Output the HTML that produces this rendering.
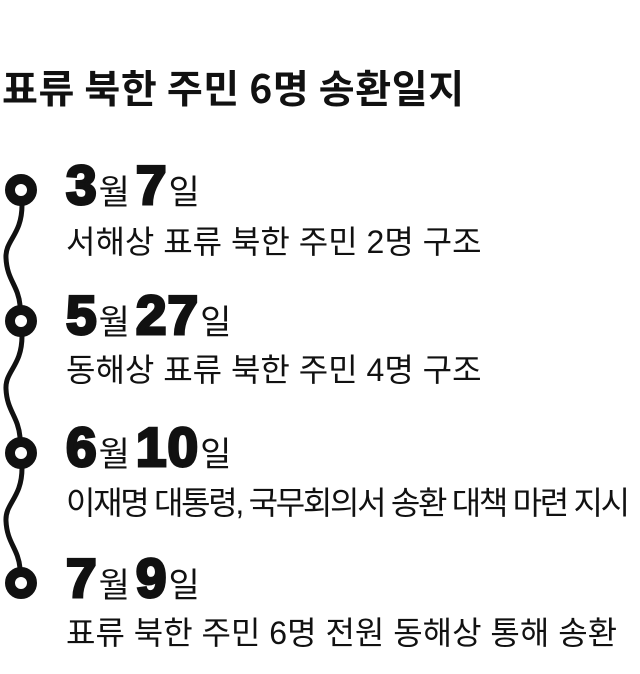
<!DOCTYPE html>
<html><head><meta charset="utf-8"><style>
body{margin:0;width:640px;height:674px;background:#fff;position:relative;overflow:hidden;font-family:"Liberation Sans","Noto Sans CJK KR",sans-serif;color:#111}
.t{position:absolute;left:2px;top:62px;font-family:"Noto Sans CJK KR",sans-serif;font-weight:700;font-size:39px;letter-spacing:0.6px;line-height:50px;white-space:nowrap}
.d{position:absolute;left:66px;white-space:nowrap;line-height:60px;height:60px}
.n{font-family:"Liberation Sans",sans-serif;font-weight:900;font-size:55px;-webkit-text-stroke:3px #111;letter-spacing:1px}
.k{font-family:"Noto Sans CJK KR",sans-serif;font-size:34px;font-weight:400;margin:0 6px 0 1px}
.s{position:absolute;left:66px;font-family:"Liberation Sans","Noto Sans CJK KR",sans-serif;font-size:32px;line-height:40px;white-space:nowrap}
</style></head><body>
<div class="t">표류 북한 주민 6명 송환일지</div>
<svg width="60" height="674" style="position:absolute;left:0;top:0">
<g fill="none" stroke="#111" stroke-width="5" stroke-linecap="round">
<path d="M22,205 C22,235 5,240 6,258 C7,280 18,285 20,305"/>
<path d="M22,336 C22,366 5,371 6,389 C7,411 18,416 20,437"/>
<path d="M22,468 C22,498 5,503 6,521 C7,543 18,548 20,568"/>
</g>
<g fill="#fff" stroke="#111" stroke-width="10">
<circle cx="21" cy="190" r="11"/><circle cx="21" cy="321" r="11"/><circle cx="21" cy="453" r="11"/><circle cx="21" cy="583" r="11"/>
</g></svg>
<div class="d" style="top:155px"><span class="n">3</span><span class="k">월</span><span class="n">7</span><span class="k">일</span></div>
<div class="s" style="top:222px;letter-spacing:0px">서해상 표류 북한 주민 2명 구조</div>
<div class="d" style="top:285px"><span class="n">5</span><span class="k">월</span><span class="n">27</span><span class="k">일</span></div>
<div class="s" style="top:350px;letter-spacing:0px">동해상 표류 북한 주민 4명 구조</div>
<div class="d" style="top:417px"><span class="n">6</span><span class="k">월</span><span class="n">10</span><span class="k">일</span></div>
<div class="s" style="top:483px;letter-spacing:-2.3px">이재명 대통령, 국무회의서 송환 대책 마련 지시</div>
<div class="d" style="top:548px"><span class="n">7</span><span class="k">월</span><span class="n">9</span><span class="k">일</span></div>
<div class="s" style="top:613px;letter-spacing:0px">표류 북한 주민 6명 전원 동해상 통해 송환</div>
</body></html>
